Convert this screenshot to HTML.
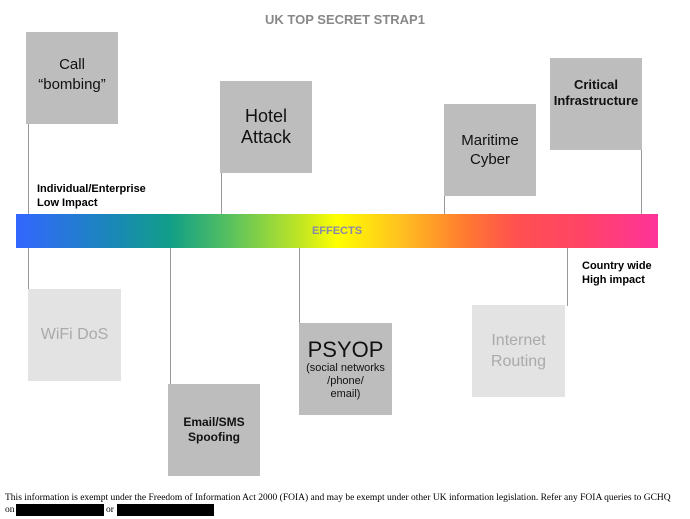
<!DOCTYPE html>
<html><head><meta charset="utf-8"><style>
body{margin:0;width:690px;height:519px;background:#fff;position:relative;overflow:hidden;font-family:"Liberation Sans",Arial,sans-serif}
.b{position:absolute;width:92px;height:92px;background:#bdbdbd;display:flex;align-items:center;justify-content:center;text-align:center;color:#111}
.l{position:absolute;width:1px;background:#999}
.t{position:absolute;font-weight:bold;font-size:11px;line-height:14px;color:#000}
</style></head><body>
<div style="position:absolute;left:0;width:690px;top:12px;text-align:center;font-weight:bold;font-size:13px;color:#888;">UK TOP SECRET STRAP1</div>

<div class="l" style="left:28px;top:120px;height:94px"></div>
<div class="l" style="left:221px;top:165px;height:49px"></div>
<div class="l" style="left:444px;top:190px;height:24px"></div>
<div class="l" style="left:641px;top:145px;height:69px"></div>
<div class="l" style="left:28px;top:248px;height:42px"></div>
<div class="l" style="left:170px;top:248px;height:140px"></div>
<div class="l" style="left:299px;top:248px;height:78px"></div>
<div class="l" style="left:567px;top:248px;height:58px"></div>

<div class="b" style="left:26px;top:32px;font-size:15px;line-height:20px;padding-bottom:6px;box-sizing:border-box">Call<br>“bombing”</div>
<div class="b" style="left:220px;top:81px;font-size:18px;line-height:21px">Hotel<br>Attack</div>
<div class="b" style="left:444px;top:104px;font-size:15px;line-height:19px">Maritime<br>Cyber</div>
<div class="b" style="left:550px;top:58px;font-size:13px;line-height:16px;font-weight:bold;padding-bottom:22px;box-sizing:border-box">Critical<br>Infrastructure</div>

<div class="t" style="left:37px;top:182px">Individual/Enterprise<br>Low Impact</div>
<div class="t" style="left:582px;top:259px">Country wide<br>High impact</div>

<div style="position:absolute;left:16px;top:214px;width:642px;height:34px;background:linear-gradient(to right,#3366ff 0%,#1a88b8 15%,#119e88 24%,#55c060 33%,#c8e820 45%,#ffff00 50%,#ffc020 60%,#ff7a30 70%,#ff5050 78%,#ff4466 88%,#ff3399 100%);display:flex;align-items:center;justify-content:center;color:#8888a8;font-weight:bold;font-size:11px">EFFECTS</div>

<div class="b" style="left:28px;top:289px;width:93px;background:#e3e3e3;color:#aaa;font-size:16px">WiFi DoS</div>
<div class="b" style="left:168px;top:384px;font-size:12px;line-height:15px;font-weight:bold">Email/SMS<br>Spoofing</div>
<div class="b" style="left:299px;top:323px;width:93px;flex-direction:column;font-size:11px;line-height:13px"><span style="font-size:22px;line-height:24px">PSYOP</span>(social networks<br>/phone/<br>email)</div>
<div class="b" style="left:472px;top:305px;width:93px;background:#e3e3e3;color:#aaa;font-size:16px;line-height:21px">Internet<br>Routing</div>

<div style="position:absolute;left:5px;top:492px;font-family:'Liberation Serif',serif;font-size:9.5px;line-height:12px;color:#000;white-space:nowrap">This information is exempt under the Freedom of Information Act 2000 (FOIA) and may be exempt under other UK information legislation. Refer any FOIA queries to GCHQ<br>on</div>
<div style="position:absolute;left:16px;top:504px;width:88px;height:12px;background:#000"></div>
<div style="position:absolute;left:106px;top:504px;font-family:'Liberation Serif',serif;font-size:9.5px;line-height:12px">or</div>
<div style="position:absolute;left:117px;top:504px;width:97px;height:12px;background:#000"></div>
</body></html>
